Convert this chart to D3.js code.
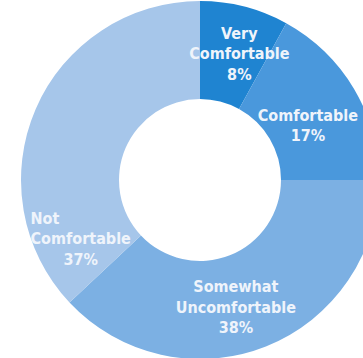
<!DOCTYPE html>
<html>
<head>
<meta charset="utf-8">
<script src="https://cdn.jsdelivr.net/npm/d3@7"></script>
<style>
  html, body { margin: 0; padding: 0; background: #fff; }
  svg { display: block; }
</style>
</head>
<body>
<svg id="chart"></svg>
<script>
const width = 363;
const height = 358;

// data
const categories = ['Very Comfortable', 'Comfortable', 'Somewhat Uncomfortable', 'Not Comfortable'];
const values = [8, 17, 38, 37];
const labelLines = [
  ['Very', 'Comfortable', '8%'],
  ['Comfortable', '17%'],
  ['Somewhat', 'Uncomfortable', '38%'],
  ['Not', 'Comfortable', '37%']
];
const colors = ['#1f84d1', '#4a98dc', '#7cb0e3', '#a6c6ea'];

// label nudges from the arc centroid (layout, not data)
const labelNudge = [[7, -1], [-4, 11], [-12, 6], [0, 110]];

const cx = 200, cy = 180;
const outerR = 179, innerR = 81;

const svg = d3.select('#chart')
    .attr('width', width)
    .attr('height', height);

const g = svg.append('g').attr('transform', `translate(${cx},${cy})`);

const color = d3.scaleOrdinal().domain(categories).range(colors);

const pie = d3.pie().sort(null).value(d => d.value);
const arcs = pie(categories.map((c, i) => ({ name: c, value: values[i], lines: labelLines[i], nudge: labelNudge[i] })));

const arc = d3.arc().innerRadius(innerR).outerRadius(outerR);
const labelArc = d3.arc().innerRadius(130).outerRadius(130);

g.selectAll('.slice')
  .data(arcs)
  .enter().append('path')
  .attr('class', 'slice')
  .attr('d', arc)
  .attr('fill', d => color(d.data.name));

const lineH = 20.5;

const label = g.selectAll('.label')
  .data(arcs)
  .enter().append('text')
  .attr('class', 'label')
  .attr('transform', d => {
    const [x, y] = labelArc.centroid(d);
    return `translate(${x + d.data.nudge[0]},${y + d.data.nudge[1]})`;
  })
  .attr('text-anchor', 'middle')
  .style('font-family', '"Liberation Sans Narrow", "DejaVu Sans Condensed", sans-serif')
  .style('font-weight', 'bold')
  .style('font-size', '16px')
  .attr('fill', '#eff4fb');

label.selectAll('tspan')
  .data(d => d.data.lines.map((t, i, a) => ({ t, i, n: a.length })))
  .enter().append('tspan')
  .attr('x', 0)
  .attr('y', d => (d.i - (d.n - 1) / 2) * lineH + 6)
  .text(d => d.t);

// "Not" sits flush left with the line below it
label.filter(d => d.data.name === 'Not Comfortable').each(function() {
  const spans = d3.select(this).selectAll('tspan').nodes();
  const w = spans[1].getComputedTextLength();
  d3.select(spans[0]).attr('text-anchor', 'start').attr('x', -w / 2);
});
</script>
</body>
</html>
